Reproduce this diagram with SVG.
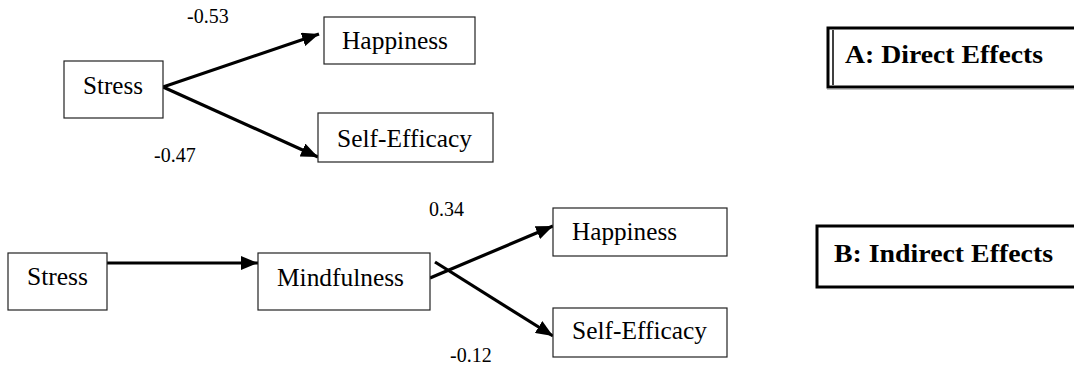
<svg xmlns="http://www.w3.org/2000/svg" width="1074" height="368" viewBox="0 0 1074 368">
<style>
text{font-family:"Liberation Serif","Times New Roman","DejaVu Serif",serif;fill:#000}
.box{fill:#fff;stroke:#222;stroke-width:1.2}
.lbl{font-size:25px}
.num{font-size:20px}
.ttl{font-size:26px;font-weight:bold}
.edge{stroke:#000;stroke-width:3.2;fill:none;marker-end:url(#ah)}
.frame{fill:#fff;stroke:#000;stroke-width:3}
</style>
<defs>
<marker id="ah" markerUnits="userSpaceOnUse" markerWidth="17" markerHeight="14" refX="17" refY="7" orient="auto">
<path d="M0,0 L17,7 L0,14 Z" fill="#000"/>
</marker>
</defs>
<rect width="1074" height="368" fill="#fff"/>
<g id="connectors">
<line class="edge" x1="163" y1="87" x2="319" y2="34"/>
<line class="edge" x1="163" y1="87" x2="318" y2="157"/>
<line class="edge" x1="107" y1="263" x2="258" y2="263"/>
<line class="edge" x1="430" y1="278" x2="553" y2="226"/>
<line class="edge" x1="435" y1="262" x2="553" y2="336"/>
</g>
<g id="n-stress-a"><rect class="box" x="64" y="61" width="99" height="57"/><text class="lbl" x="83" y="94" textLength="60" lengthAdjust="spacingAndGlyphs">Stress</text></g>
<g id="n-happiness-a"><rect class="box" x="324" y="17" width="151" height="47"/><text class="lbl" x="342" y="49" textLength="106" lengthAdjust="spacingAndGlyphs">Happiness</text></g>
<g id="n-selfefficacy-a"><rect class="box" x="318" y="113" width="175" height="49"/><text class="lbl" x="337" y="147" textLength="135" lengthAdjust="spacingAndGlyphs">Self-Efficacy</text></g>
<g id="n-stress-b"><rect class="box" x="8" y="253" width="99" height="57"/><text class="lbl" x="27" y="285" textLength="61" lengthAdjust="spacingAndGlyphs">Stress</text></g>
<g id="n-mindfulness"><rect class="box" x="258" y="253" width="172" height="57"/><text class="lbl" x="277" y="286" textLength="127" lengthAdjust="spacingAndGlyphs">Mindfulness</text></g>
<g id="n-happiness-b"><rect class="box" x="553" y="208" width="174" height="48"/><text class="lbl" x="572" y="240" textLength="105" lengthAdjust="spacingAndGlyphs">Happiness</text></g>
<g id="n-selfefficacy-b"><rect class="box" x="553" y="308" width="174" height="49"/><text class="lbl" x="572" y="339" textLength="135" lengthAdjust="spacingAndGlyphs">Self-Efficacy</text></g>
<g id="labels">
<text class="num" x="187" y="23">-0.53</text>
<text class="num" x="154" y="162">-0.47</text>
<text class="num" x="429" y="216">0.34</text>
<text class="num" x="450" y="362">-0.12</text>
</g>
<g id="title-a">
<rect class="frame" x="828" y="28" width="260" height="59"/>
<line x1="833" y1="30" x2="833" y2="85" stroke="#000" stroke-width="1.5"/>
<line x1="827" y1="89" x2="1074" y2="89" stroke="#888" stroke-width="1"/>
<text class="ttl" x="845" y="63" textLength="198" lengthAdjust="spacingAndGlyphs">A: Direct Effects</text>
</g>
<g id="title-b">
<rect class="frame" x="817" y="226" width="270" height="61"/>
<text class="ttl" x="834" y="262" textLength="219" lengthAdjust="spacingAndGlyphs">B: Indirect Effects</text>
</g>
</svg>
